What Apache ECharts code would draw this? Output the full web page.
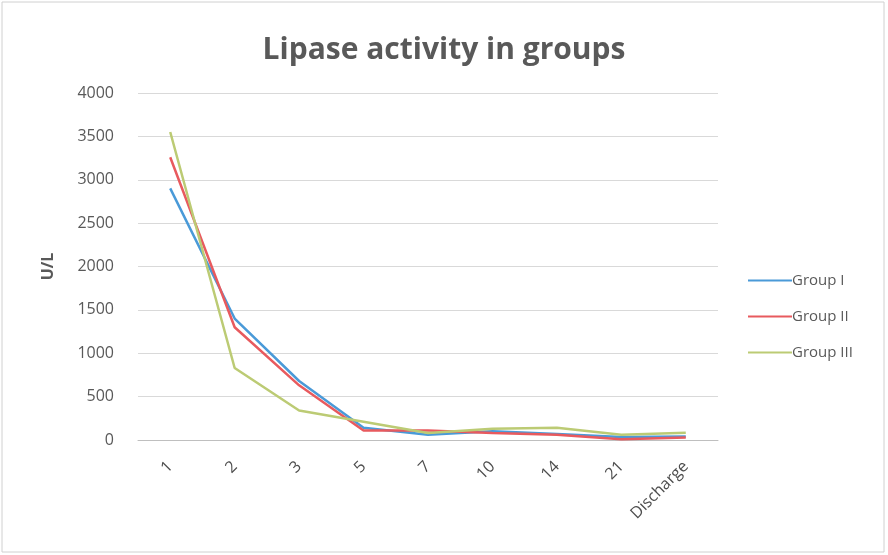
<!DOCTYPE html>
<html><head><meta charset="utf-8">
<script src="https://cdn.jsdelivr.net/npm/echarts@6/dist/echarts.min.js"></script>
<style>html,body{margin:0;padding:0;background:#fff}#c{width:888px;height:555px}</style>
</head><body><div id="c"></div>
<script>
const categories = ['1','2','3','5','7','10','14','21','Discharge'];
const groupI   = [2900, 1400, 680, 140, 60, 100, 70, 35, 40];
const groupII  = [3260, 1300, 630, 110, 110, 80, 60, 10, 30];
const groupIII = [3550, 830, 340, 210, 80, 130, 140, 60, 85];
const yTicks = {min: 0, max: 4000, interval: 500};

const chart = echarts.init(document.getElementById('c'));
const mk = (name, data, color) => ({
  name, type: 'line', data, symbol: 'none', smooth: false,
  lineStyle: {width: 2.5, color}, itemStyle: {color}
});
chart.setOption({
  animation: false,
  backgroundColor: '#fff',
  title: {text: 'Lipase activity in groups', left: 'center', top: 30,
    textStyle: {fontFamily: 'Open Sans', fontWeight: 'bold', fontSize: 30, color: '#595959'}},
  legend: {orient: 'vertical', left: 743, top: 268, itemGap: 21, itemWidth: 44, itemHeight: 14,
    icon: 'path://M0,6 L44,6 L44,8 L0,8 Z',
    textStyle: {fontFamily: 'Open Sans', fontSize: 15, color: '#595959', padding: [0,0,0,-5]},
    data: ['Group I','Group II','Group III']},
  grid: {left: 138, right: 170, top: 93, bottom: 115},
  xAxis: {type: 'category', data: categories, boundaryGap: true,
    axisLine: {lineStyle: {color: '#bfbfbf'}}, axisTick: {show: false},
    axisLabel: {rotate: 45, fontFamily: 'Open Sans', fontSize: 16, color: '#4d4d4d', margin: 24}},
  yAxis: {type: 'value', min: yTicks.min, max: yTicks.max, interval: yTicks.interval,
    name: 'U/L', nameLocation: 'middle', nameGap: 82, nameRotate: 90,
    nameTextStyle: {fontFamily: 'Open Sans', fontWeight: 'bold', fontSize: 16, color: '#595959'},
    axisLine: {show: false}, axisTick: {show: false},
    splitLine: {lineStyle: {color: '#d9d9d9'}},
    axisLabel: {fontFamily: 'Open Sans', fontSize: 16, color: '#595959', margin: 24,
      formatter: v => String(v)}},
  graphic: [{type: 'rect', shape: {x: 2, y: 2, width: 882, height: 550},
    style: {fill: 'none', stroke: '#d0d0d0', lineWidth: 1}, silent: true}],
  series: [mk('Group I', groupI, '#4a9ad8'), mk('Group II', groupII, '#e85a5e'), mk('Group III', groupIII, '#bccb74')]
});
</script></body></html>
